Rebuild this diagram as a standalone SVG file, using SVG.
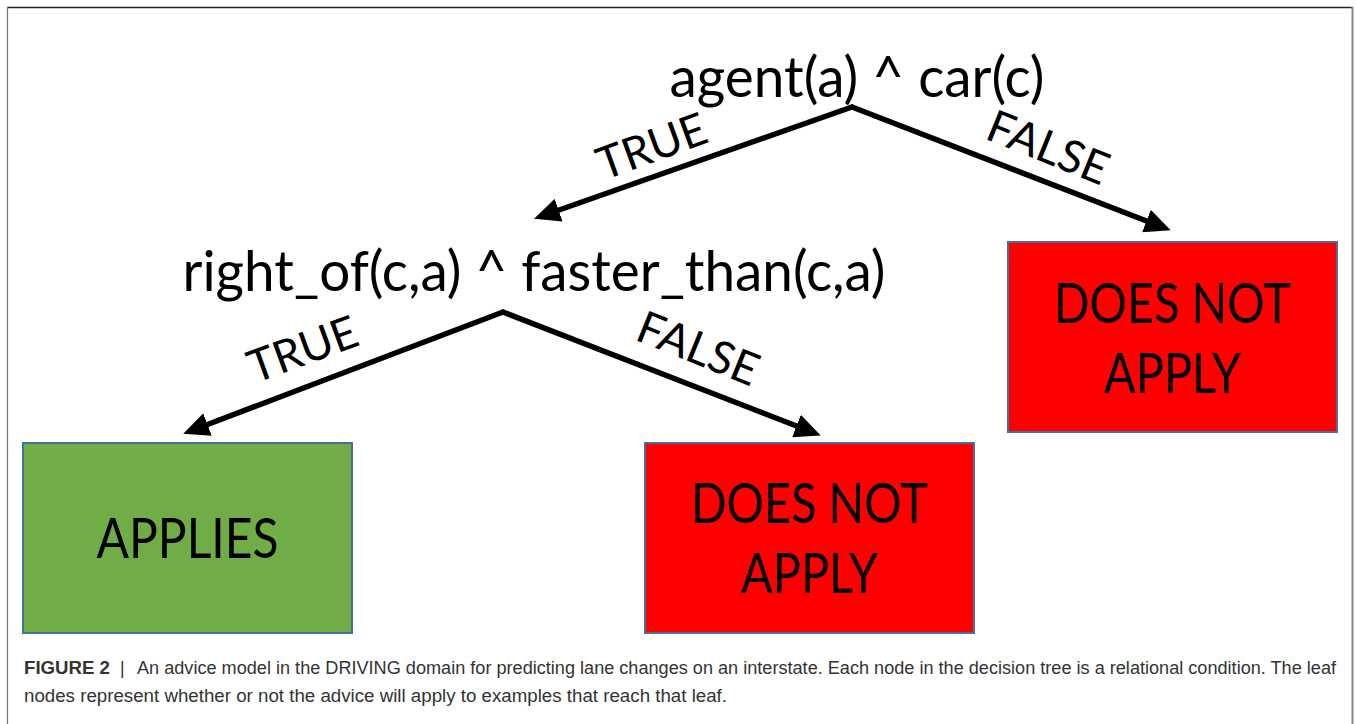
<svg xmlns="http://www.w3.org/2000/svg" width="1356" height="724" viewBox="0 0 1356 724">
<style>
.cond{font-family:Lato,"Open Sans",sans-serif;font-size:57px;fill:#000;text-anchor:middle}
.lbl{font-family:Lato,"Open Sans",sans-serif;font-size:45px;fill:#000;text-anchor:middle}
.leaf{stroke:#41719C;stroke-width:2}
.conn{stroke:#000;stroke-width:5.5;fill:none;stroke-linecap:round;marker-end:url(#ah)}
.cap{font-family:"Liberation Sans",Arial,sans-serif;font-size:17.5px;fill:#333}
</style>
<defs>
<marker id="ah" markerUnits="userSpaceOnUse" markerWidth="26" markerHeight="24" viewBox="0 0 26 24" refX="7" refY="12" orient="auto">
<path d="M0,0 L26,12 L0,24 z" fill="#000"/>
</marker>
</defs>
<rect x="0" y="0" width="1356" height="724" fill="#fff"/>
<g id="frame">
<line x1="7" y1="7.5" x2="1353" y2="7.5" stroke="#222" stroke-width="1.5"/>
<line x1="7.5" y1="7" x2="7.5" y2="724" stroke="#777" stroke-width="1.2"/>
<line x1="1352.5" y1="7" x2="1352.5" y2="724" stroke="#888" stroke-width="2"/>
</g>
<g id="connectors">
<path class="conn" d="M852,107 L552,212.5"/>
<path class="conn" d="M852,107 L1153,223.5"/>
<path class="conn" d="M503,312 L201,427"/>
<path class="conn" d="M503,312 L803,428.5"/>
<text class="lbl" transform="translate(652,147) rotate(-20)" y="15">TRUE</text>
<text class="lbl" transform="translate(1048,148) rotate(22)" y="15">FALSE</text>
<text class="lbl" transform="translate(303,350) rotate(-20)" y="15">TRUE</text>
<text class="lbl" transform="translate(698,349) rotate(22)" y="15">FALSE</text>
</g>
<g id="root">
<text class="cond" x="857" y="97" textLength="375" lengthAdjust="spacingAndGlyphs">agent(a) ^ car(c)</text>
</g>
<g id="cond2">
<text class="cond" x="534" y="291" textLength="703" lengthAdjust="spacingAndGlyphs">right_of(c,a) ^ faster_than(c,a)</text>
</g>
<g id="applies">
<rect class="leaf" x="23" y="443" width="329" height="190" fill="#70AD47"/>
<text class="cond" x="187.5" y="558" textLength="182" lengthAdjust="spacingAndGlyphs">APPLIES</text>
</g>
<g id="notapply1">
<rect class="leaf" x="645" y="443" width="329" height="190" fill="#FF0000"/>
<text class="cond" x="809.5" y="523" textLength="237" lengthAdjust="spacingAndGlyphs">DOES NOT</text>
<text class="cond" x="809.5" y="593" textLength="137" lengthAdjust="spacingAndGlyphs">APPLY</text>
</g>
<g id="notapply2">
<rect class="leaf" x="1008" y="242" width="329" height="190" fill="#FF0000"/>
<text class="cond" x="1172.5" y="323" textLength="237" lengthAdjust="spacingAndGlyphs">DOES NOT</text>
<text class="cond" x="1172.5" y="393" textLength="137" lengthAdjust="spacingAndGlyphs">APPLY</text>
</g>
<g id="caption">
<text class="cap" x="24" y="674" font-weight="bold" fill="#231f20" textLength="86" lengthAdjust="spacingAndGlyphs">FIGURE 2</text>
<text class="cap" x="120" y="674" fill="#231f20">|</text>
<text class="cap" x="137" y="674" textLength="1199" lengthAdjust="spacingAndGlyphs">An advice model in the DRIVING domain for predicting lane changes on an interstate. Each node in the decision tree is a relational condition. The leaf</text>
<text class="cap" x="24" y="702" textLength="703" lengthAdjust="spacingAndGlyphs">nodes represent whether or not the advice will apply to examples that reach that leaf.</text>
</g>
</svg>
